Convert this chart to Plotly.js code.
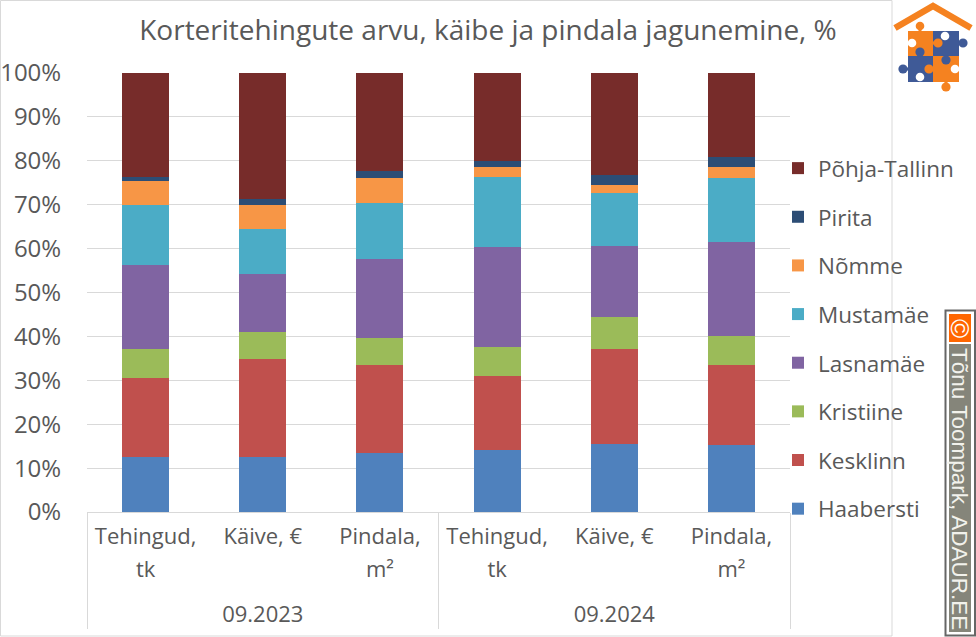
<!DOCTYPE html>
<html><head><meta charset="utf-8">
<script src="https://cdn.plot.ly/plotly-3.0.1.min.js"></script>
<style>html,body{margin:0;padding:0;background:#fff;overflow:hidden}#c{width:976px;height:637px}</style>
</head><body><div id="c"></div>
<script>
const groups = ["09.2023","09.2023","09.2023","09.2024","09.2024","09.2024"];
const measures = ["Tehingud,<br>tk","Käive, €","Pindala,<br>m²","Tehingud,<br>tk","Käive, €","Pindala,<br>m²"];
const Haabersti = [12.6,12.6,13.5,14.2,15.5,15.2];
const Kesklinn = [18.0,22.2,19.9,16.8,21.7,18.3];
const Kristiine = [6.6,6.1,6.3,6.7,7.2,6.7];
const Lasnamae = [19.0,13.3,17.9,22.6,16.3,21.2];
const Mustamae = [13.7,10.2,12.7,15.9,11.9,14.6];
const Nomme = [5.4,5.5,5.7,2.5,2.0,2.5];
const Pirita = [1.1,1.3,1.6,1.2,2.1,2.3];
const PohjaTallinn = [23.6,28.8,22.4,20.1,23.3,19.2];
const seriesNames = ["Haabersti","Kesklinn","Kristiine","Lasnamäe","Mustamäe","Nõmme","Pirita","Põhja-Tallinn"];
const seriesValues = [Haabersti,Kesklinn,Kristiine,Lasnamae,Mustamae,Nomme,Pirita,PohjaTallinn];
const seriesColors = ["#4F81BD","#C0504D","#9BBB59","#8064A2","#4BACC6","#F79646","#2C4D75","#772C2A"];
const font = "'Open Sans','Noto Sans',sans-serif";
const L=87,R=790,T=73,B=512,W_=976;
const px=x=>(x-L)/(W_-L), py=y=>(B-y)/(B-T);
const styled=s=>s.split("<br>").map(t=>`<span style="font-size:22px">${t}</span>`).join("<br>");
const traces = seriesNames.map((n,i)=>({type:"bar",name:n,x:[groups.map(g=>styled(g)),measures.map(styled)],y:seriesValues[i],
  marker:{color:seriesColors[i],line:{width:0}},legendgroup:n,legendrank:100-i,hoverinfo:"name+y"}));
const rect=(x0,y0,x1,y1,c,extra)=>Object.assign({type:"rect",xref:"paper",yref:"paper",x0:px(x0),x1:px(x1),y0:py(y0),y1:py(y1),fillcolor:c,line:{width:0}},extra||{});
const circ=(x,y,r,c)=>({type:"circle",xref:"paper",yref:"paper",x0:px(x-r),x1:px(x+r),y0:py(y-r),y1:py(y+r),fillcolor:c,line:{width:0}});
const O="#F58220",Bl="#3F5A97",W="#ffffff";
const shapes=[
 {type:"rect",xref:"paper",yref:"paper",x0:px(0.5),x1:px(892),y0:py(636),y1:py(0.5),fillcolor:"rgba(0,0,0,0)",line:{color:"#D9D9D9",width:1}},
 rect(893,0,976,100,W),
 rect(908,31,933,56,O),rect(933,31,959,56,Bl),rect(908,56,933,82,Bl),rect(933,56,959,82,O),
 rect(918.5,28,921.5,32,O),rect(932,41.5,937,44.5,O),rect(958,41.5,961,44.5,Bl),
 rect(918.5,50,921.5,57,Bl),rect(905,67.5,909,70.5,Bl),rect(932,67.5,927,70.5,O),
 rect(944.5,55,947.5,62,Bl),rect(944.5,81,947.5,86,O),
 circ(920,26,4.3,O),circ(912,43,4.3,W),circ(938,43,4.6,O),circ(945,36,4.3,W),circ(963,43,4.6,Bl),
 circ(920,52,4.6,Bl),circ(903,69,4.6,Bl),circ(929,69,4.6,O),circ(920,77,4.3,W),circ(946,60,4.6,Bl),
 circ(955,69,4.3,W),circ(946,87,4.6,O),
 {type:"path",xref:"paper",yref:"paper",path:`M ${px(895)} ${py(28)} L ${px(933)} ${py(6)} L ${px(971)} ${py(28)}`,line:{color:O,width:6.5},fillcolor:"rgba(0,0,0,0)"},
 rect(945.5,310.5,975,635.5,W,{line:{color:"#666666",width:2}}),
 rect(949,314,971,342,"#FF6600"),
 rect(949,344,971,632,"#85857A")
];
const layout={
 width:976,height:637,autosize:false,paper_bgcolor:"#fff",plot_bgcolor:"#fff",
 margin:{l:L,r:0,t:T,b:637-B,pad:0},
 title:{text:"Korteritehingute arvu, käibe ja pindala jagunemine, %",font:{family:font,size:28,color:"#595959"},x:488/976,xanchor:"center",y:1-30/637,yanchor:"middle"},
 barmode:"stack",bargap:0.6,
 xaxis:{type:"multicategory",domain:[0,px(R)],tickfont:{family:font,size:25.5,color:"#595959"},showgrid:false,zeroline:false,
   showline:true,linecolor:"#D9D9D9",linewidth:1,ticks:"",showdividers:true,dividercolor:"#D9D9D9",dividerwidth:1,automargin:false},
 yaxis:{range:[0,100],tickvals:[0,10,20,30,40,50,60,70,80,90,100],ticktext:["0%","10%","20%","30%","40%","50%","60%","70%","80%","90%","100%"],
   tickfont:{family:font,size:24,color:"#595959"},gridcolor:"#D9D9D9",gridwidth:1,zeroline:false,showline:false,ticks:"outside",ticklen:20,tickcolor:"rgba(0,0,0,0)",automargin:false},
 showlegend:true,
 legend:{traceorder:"grouped",tracegroupgap:16.4,x:px(778),xanchor:"left",y:py(147),yanchor:"top",
   font:{family:font,size:22.5,color:"#595959"},itemwidth:30,bgcolor:"rgba(0,0,0,0)"},
 shapes:shapes,
 annotations:[
  {xref:"paper",yref:"paper",x:px(960),y:py(328),text:"©",showarrow:false,textangle:90,font:{family:"'Liberation Sans',sans-serif",size:26,color:"#fff"},xanchor:"center",yanchor:"middle"},
  {xref:"paper",yref:"paper",x:px(960),y:py(489),text:"Tõnu Toompark, ADAUR.EE",showarrow:false,textangle:90,font:{family:"'Liberation Sans',sans-serif",size:22.5,color:"#F2F2EC"},xanchor:"center",yanchor:"middle"}
 ]
};
Plotly.newPlot("c",traces,layout,{displayModeBar:false,staticPlot:true}).then(gd=>{
  const box=n=>n.getBoundingClientRect();
  const labels=[...gd.querySelectorAll("g.xtick2")];
  labels.forEach(g=>{const t=g.querySelector("text");const r=box(t);g.setAttribute("transform",`translate(0,${613-(r.top+r.bottom)/2})`);});
  gd.querySelectorAll("path.xdivider,path[class*='divider']").forEach(p=>{
    const r=box(p);const extra=629-r.bottom;
    p.setAttribute("d",p.getAttribute("d").replace(/v(-?[\d.]+)/,(m,v)=>"v"+(parseFloat(v)+extra)));
  });
});
</script></body></html>
